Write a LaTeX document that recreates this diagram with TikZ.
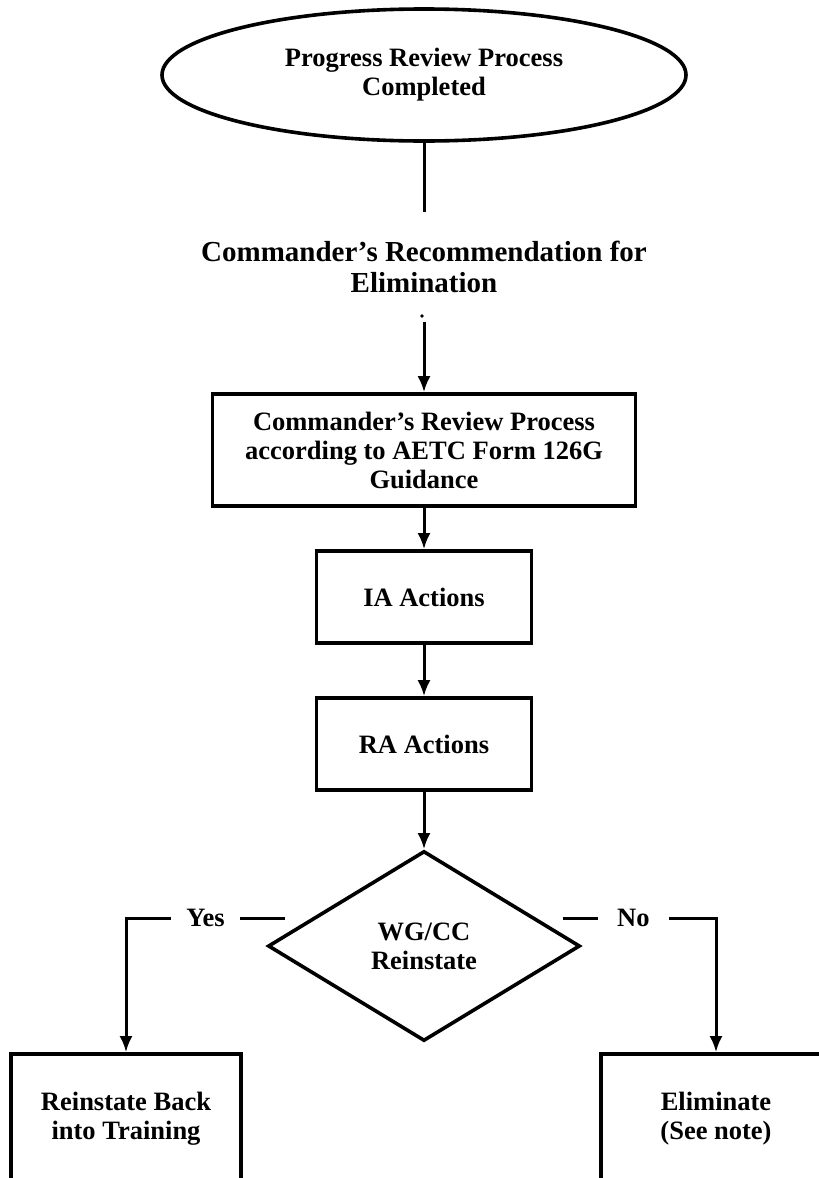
\documentclass[tikz,border=0pt]{standalone}
\usepackage{fontspec}
\setmainfont{Liberation Serif}
\usetikzlibrary{shapes.geometric,arrows.meta}

\begin{document}
\begin{tikzpicture}[x=1pt,y=-1pt,
  font=\bfseries\fontsize{26.5}{29}\selectfont,
  >={Latex[length=16pt,width=13pt]},
  every node/.style={align=center},
  box/.style={draw,line width=3.6pt,inner sep=0pt},
  link/.style={draw,line width=3pt}]
\useasboundingbox (0,0) rectangle (819,1178);
\clip (0,0) rectangle (819,1178);

\node[box,ellipse,minimum width=524pt,minimum height=132pt] (1) at (424,75) {Progress Review Process\\Completed};
\node[font=\bfseries\fontsize{29}{31}\selectfont] (2) at (424,267) {Commander’s Recommendation for\\Elimination};
\node[box,minimum width=423pt,minimum height=112pt] (3) at (424,450) {Commander’s Review Process\\according to AETC Form 126G\\Guidance};
\node[box,minimum width=215pt,minimum height=92pt] (4) at (424,597) {IA Actions};
\node[box,minimum width=215pt,minimum height=92pt] (5) at (424,744) {RA Actions};
\node[box,diamond,minimum width=312pt,minimum height=190pt] (6) at (424,946) {WG/CC\\Reinstate};
\node[box,minimum width=230pt,minimum height=130pt] (7) at (126,1119) {Reinstate Back\\into Training};
\node[box,minimum width=230pt,minimum height=130pt] (8) at (716,1119) {Eliminate\\(See note)};

\coordinate (1a) at (424,212);
\coordinate (2a) at (424,322);
\coordinate (yl) at (285,918);
\coordinate (nr) at (563,918);
\fill (422,316) circle (1.8pt);

\path[link] (1) -- (1a);
\path[link,->] (2a) -- (3);
\path[link,->] (3) -- (4);
\path[link,->] (4) -- (5);
\path[link,->] (5) -- (6);
\path[link,->] (yl) -| node[pos=0.25,fill=white,inner xsep=15pt] {Yes} (7);
\path[link,->] (nr) -| node[pos=0.23,fill=white,inner xsep=19pt] {No} (8);
\end{tikzpicture}
\end{document}
